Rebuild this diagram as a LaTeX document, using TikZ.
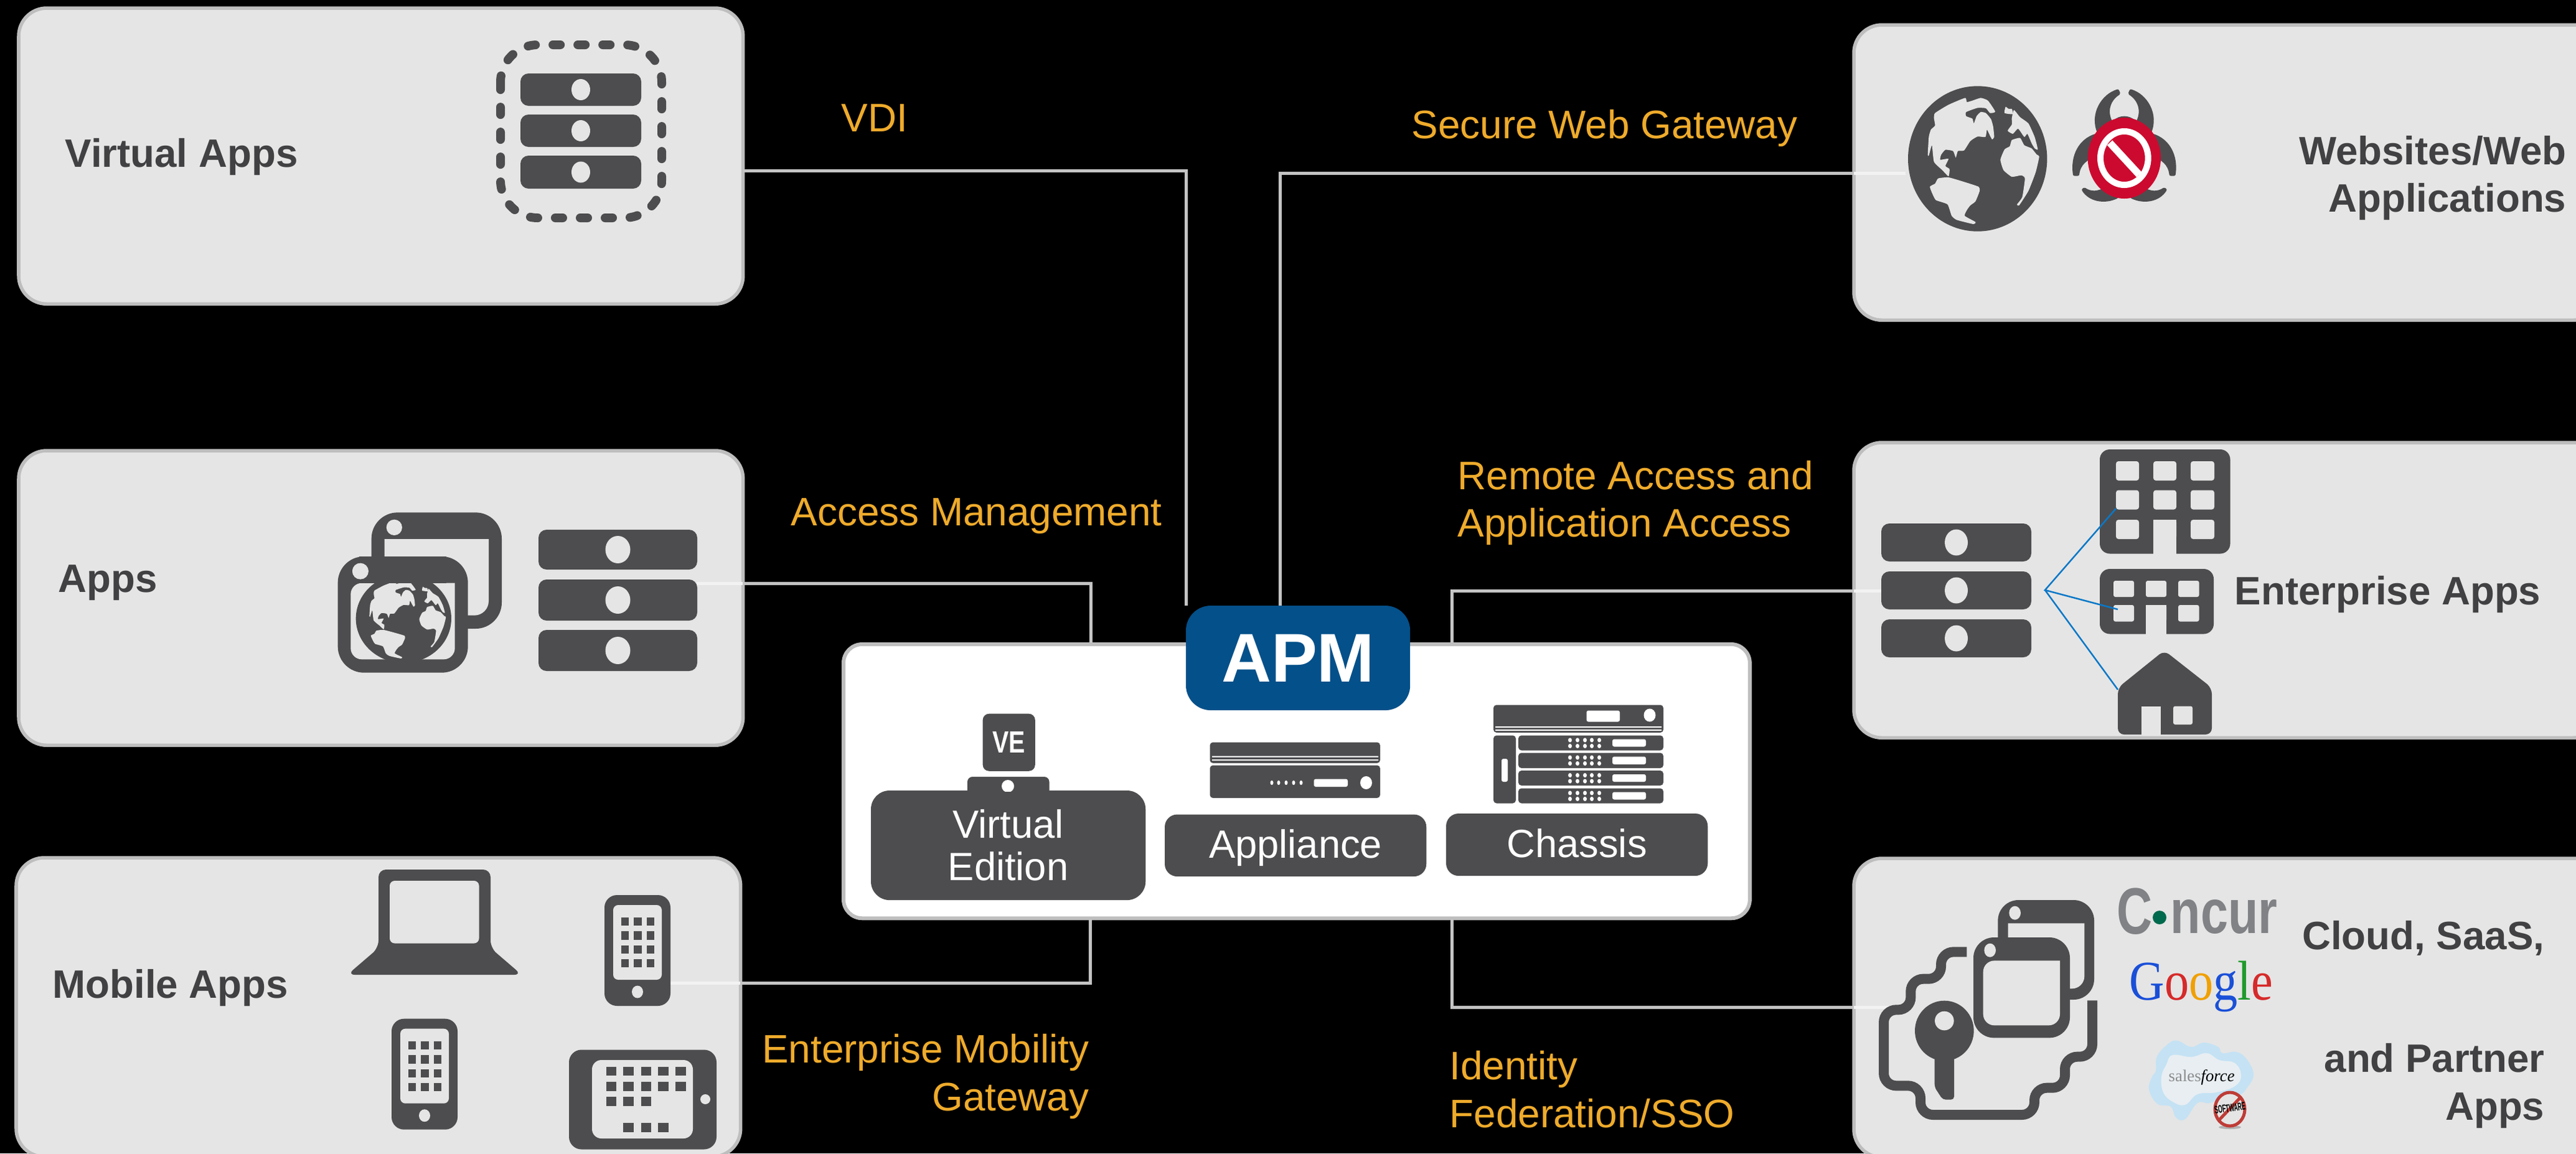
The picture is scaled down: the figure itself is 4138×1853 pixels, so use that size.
\documentclass[tikz,border=0pt]{standalone}
\usepackage{fontspec}
\usepackage{graphicx}
\setmainfont{Liberation Sans}
\newfontfamily\serifface{Liberation Serif}
\definecolor{panelfill}{HTML}{E5E5E5}
\definecolor{paneledge}{HTML}{BEBEBE}
\definecolor{icondark}{HTML}{4D4D4F}
\definecolor{labeldark}{HTML}{414042}
\definecolor{amber}{HTML}{EFAB2B}
\definecolor{apmblue}{HTML}{03508A}
\definecolor{linegrey}{HTML}{C4C4C4}
\definecolor{linepale}{HTML}{F2F2F2}
\definecolor{alarmred}{HTML}{CC0A2F}
\definecolor{logogrey}{HTML}{808285}
\tikzset{
  panel/.style={draw=paneledge,fill=panelfill,line width=.055cm,rounded corners=.45cm,inner sep=0pt,outer sep=0pt},
  hubbox/.style={draw=paneledge,fill=white,line width=.06cm,rounded corners=.3cm,inner sep=0pt,outer sep=0pt},
  darkbox/.style={fill=icondark,rounded corners=.2cm,inner sep=0pt,outer sep=0pt,text=white,align=center,font=\fontsize{18}{19.5}\selectfont},
  conn/.style={draw=linegrey,line width=.05cm},
  connin/.style={draw=linepale,line width=.05cm},
  panellabel/.style={text=labeldark,font=\fontsize{18.1}{22}\selectfont\bfseries,inner sep=0pt},
  amberlabel/.style={text=amber,font=\fontsize{18.15}{22}\selectfont,inner sep=0pt},
  icon/.style={fill=icondark,draw=none},
  gap/.style={fill=panelfill,draw=none},
}
\newcommand{\plate}[5]{\fill[icon,rounded corners=#5 cm] (#1,#2) rectangle (#3,#4);}
\newcommand{\hole}[5]{\fill[gap,rounded corners=#5 cm] (#1,#2) rectangle (#3,#4);}
\newcommand{\unit}[6]{\fill[icon,rounded corners=.13cm] (#1,#3) rectangle (#2,#4);
  \fill[panelfill] ({(#1+#2)/2},{(#3+#4)/2}) ellipse [x radius=#5,y radius=#6];}
\newcommand{\phone}[2]{\begin{scope}[shift={(#1,#2)}]
  \plate{971}{1438}{1077}{1616}{.2}
  \hole{985}{1454}{1063}{1574}{.08}
  \foreach \yy/\yb in {1474/1487,1496/1510,1519/1532,1541/1554}
    \foreach \xx/\xb in {997.5/1010,1018/1031,1039/1051}
      {\fill[icon] (\xx,\yy) rectangle (\xb,\yb);}
  \fill[panelfill] (1024,1593.5) ellipse [x radius=9,y radius=10];
\end{scope}}
\newcommand{\globe}[4]{\begin{scope}[shift={(#1,#2)},xscale=#3/335,yscale=#4/350]
  \fill[icon] (0,0) ellipse [x radius=335,y radius=350];
  \begin{scope}[shift={(-380,-405)},fill=panelfill]
  \fill plot[smooth cycle,tension=.3] coordinates {(175,185)(240,145)(320,112)(328,132)(355,125)(395,112)(430,125)(465,178)(440,185)(420,162)(380,160)(325,180)(325,200)(355,212)(362,235)(375,200)(395,180)(420,185)(445,215)(455,250)(460,300)(450,312)(438,290)(425,265)(418,300)(380,298)(345,320)(315,365)(285,368)(275,400)(262,368)(225,362)(205,385)(200,410)(240,405)(225,440)(245,455)(240,490)(210,460)(170,420)(160,340)(145,390)(140,385)(145,300)(155,265)(175,245)(170,210)};
  \fill plot[smooth cycle,tension=.3] coordinates {(150,540)(175,525)(190,500)(240,495)(310,515)(385,540)(390,560)(370,610)(345,630)(330,650)(318,680)(370,710)(360,720)(280,700)(255,680)(235,625)(180,605)(165,580)};
  \fill plot[smooth cycle,tension=.3] coordinates {(490,410)(510,360)(535,345)(545,315)(585,305)(605,340)(640,355)(665,385)(677,395)(660,470)(625,560)(580,630)(570,625)(595,590)(608,500)(590,485)(545,492)(505,460)};
  \fill plot[smooth cycle,tension=.3] coordinates {(515,155)(530,165)(545,165)(550,190)(510,185)};
  \fill plot[smooth cycle,tension=.3] coordinates {(555,170)(585,205)(625,235)(655,300)(670,360)(655,355)(640,330)(620,285)(605,300)(575,260)(550,285)(525,270)(545,240)(545,210)};
  \end{scope}
\end{scope}}
\begin{document}
\begin{tikzpicture}[x=.01cm,y=-.01cm]
\useasboundingbox (0,0) rectangle (4138,1853);
\fill[black] (0,0) rectangle (4138,1853);
% panels
\node[panel,minimum width=11.63cm,minimum height=4.75cm,anchor=north west] (virtual) at (30,13) {};
\node[panel,minimum width=11.63cm,minimum height=4.73cm,anchor=north west] (apps) at (30,724) {};
\node[panel,minimum width=11.63cm,minimum height=4.8cm,anchor=north west] (mobile) at (26,1378) {};
\node[panel,minimum width=12cm,minimum height=4.74cm,anchor=north west] (web) at (2978,40) {};
\node[panel,minimum width=12cm,minimum height=4.74cm,anchor=north west] (ent) at (2978,711) {};
\node[panel,minimum width=12cm,minimum height=4.8cm,anchor=north west] (cloud) at (2978,1379) {};
% hub and badge
\node[hubbox,minimum width=14.55cm,minimum height=4.4cm,anchor=north west] (hub) at (1355,1035) {};
\node[fill=apmblue,rounded corners=.4cm,minimum width=3.6cm,minimum height=1.68cm,inner sep=0pt,outer sep=0pt,anchor=north west,text=white,font=\fontsize{31.5}{34}\selectfont\bfseries] (apm) at (1905,973) {APM};
% connector ends
\coordinate (vaout) at (1193,274);
\coordinate (appsin) at (1119,937);
\coordinate (appsout) at (1193,937);
\coordinate (mobin) at (1076,1579);
\coordinate (mobout) at (1189,1579);
\coordinate (webin) at (3061,278);
\coordinate (webout) at (2978,278);
\coordinate (entin) at (3022,949);
\coordinate (entout) at (2978,949);
\coordinate (cldin) at (3036,1618);
\coordinate (cldout) at (2978,1618);
\coordinate (hubtl) at (1752,1033);
\coordinate (hubtr) at (2332,1033);
\coordinate (hubbl) at (1751,1477);
\coordinate (hubbr) at (2332,1477);
\coordinate (apmtr) at (2056,973);
\draw[conn] (vaout) -| (apm.north west);
\draw[conn] (webout) -| (apmtr);
\draw[conn] (appsout) -| (hubtl);
\draw[conn] (entout) -| (hubtr);
\draw[conn] (mobout) -| (hubbl);
\draw[conn] (cldout) -| (hubbr);
\draw[connin] (appsin) -- (appsout);
\draw[connin] (mobin) -- (mobout);
\draw[connin] (webin) -- (webout);
\draw[connin] (entin) -- (entout);
\draw[connin] (cldin) -- (cldout);
% panel labels
\node[panellabel,anchor=base west] (lva) at (104,268) {Virtual Apps};
\node[panellabel,anchor=base west] (lap) at (93,951) {Apps};
\node[panellabel,anchor=base west] (lmo) at (84,1603) {Mobile Apps};
\node[panellabel,anchor=base east] (lw1) at (4123,264.5) {Websites/Web};
\node[panellabel,anchor=base east] (lw2) at (4123,340) {Applications};
\node[panellabel,anchor=base west] (len) at (3589,971) {Enterprise Apps};
\node[panellabel,anchor=base east] (lc1) at (4088,1525.5) {Cloud, SaaS,};
\node[panellabel,anchor=base east] (lc2) at (4088,1722.5) {and Partner};
\node[panellabel,anchor=base east] (lc3) at (4088,1799) {Apps};
% connector labels
\node[amberlabel,anchor=base west] (tvdi) at (1351,211) {VDI};
\node[amberlabel,anchor=base west] (tswg) at (2267,222) {Secure Web Gateway};
\node[amberlabel,anchor=base west] (tam) at (1270,844) {Access Management};
\node[amberlabel,anchor=base west] (tra1) at (2341,786) {Remote Access and};
\node[amberlabel,anchor=base west] (tra2) at (2341,862) {Application Access};
\node[amberlabel,anchor=base east] (tem1) at (1750,1707) {Enterprise Mobility};
\node[amberlabel,anchor=base east] (tem2) at (1750,1784) {Gateway};
\node[amberlabel,anchor=base west] (tid1) at (2328,1734) {Identity};
\node[amberlabel,anchor=base west] (tid2) at (2328,1811) {Federation/SSO};
% virtual apps icon
\draw[icondark,line width=.14cm,line cap=round,dash pattern=on .12cm off .28cm,rounded corners=.6cm] (804,72) rectangle (1063,350);
\unit{836}{1030}{118}{170}{15}{17}
\unit{836}{1030}{184}{236}{15}{17}
\unit{836}{1030}{250}{303}{15}{17}
% apps icon
\unit{865}{1120}{851}{915}{20}{22}
\unit{865}{1120}{931}{997}{20}{22}
\unit{865}{1120}{1012}{1078}{20}{22}
\begin{scope}[shift={(530,810)},scale=.33333]
  \fill[icon,rounded corners=.42cm] (200,40) rectangle (828,600);
  \fill[gap] (263,168) -- (765,168) [rounded corners=.23cm] -- (765,536) -- (263,536) [sharp corners] -- cycle;
  \fill[panelfill] (310,112) circle [radius=38];
  \fill[icon,rounded corners=.42cm] (38,252) rectangle (665,812);
  \fill[gap] (100,380) -- (602,380) [rounded corners=.18cm] -- (602,748) -- (100,748) [rounded corners=.18cm] -- cycle;
  \fill[panelfill] (147,323) circle [radius=39];
  \begin{scope}
    \clip (38,252) rectangle (665,812);
    \globe{355}{551}{230}{214}
  \end{scope}
  \fill[icon] (140,252) rectangle (560,380);
  \fill[panelfill] (147,323) circle [radius=39];
\end{scope}
% mobile icons
\fill[icon,rounded corners=.12cm] (608,1523) -- (608,1397) -- (788,1397) -- (788,1523) -- (838,1566) -- (558,1566) -- cycle;
\hole{626}{1415}{769.5}{1515.5}{.08}
\phone{0}{0}
\phone{-342}{198.7}
\plate{914}{1686.5}{1151}{1846.5}{.2}
\hole{951}{1703}{1113}{1829}{.15}
\foreach \yy/\yb in {1714/1728,1738/1753}
  \foreach \xx/\xb in {974/990,1001/1018,1030/1046,1057/1074,1085/1102}
    {\fill[icon] (\xx,\yy) rectangle (\xb,\yb);}
\foreach \xx/\xb in {974/990,1001/1018,1030/1046}
  {\fill[icon] (\xx,1762) rectangle (\xb,1777);}
\foreach \xx/\xb in {1001/1018,1030/1046,1057/1074}
  {\fill[icon] (\xx,1804) rectangle (\xb,1819);}
\fill[panelfill] (1133,1766) ellipse [x radius=8,y radius=8];
% web icons
\globe{3176.7}{255}{111.7}{116.7}
\begin{scope}[shift={(3412.33,120)},scale=.33333]
  \foreach \sgn in {1,-1}{
    \begin{scope}[xscale=\sgn]
    \fill[icon,draw=icondark,line width=.05cm,line join=round] (-32,78) .. controls (-102,98) and (-162,190) .. (-122,280) -- (-57,240) .. controls (-92,190) and (-82,125) .. (-27,90) -- cycle;
    \fill[icon,draw=icondark,line width=.05cm,line join=round] (-240,480) .. controls (-253,390) and (-212,315) .. (-137,292) -- (-137,390) .. controls (-182,400) and (-219,430) .. (-224,480) -- cycle;
    \fill[icon,draw=icondark,line width=.05cm,line join=round] (-197,555) .. controls (-167,604) and (-97,618) .. (-37,590) -- (-87,548) .. controls (-127,572) and (-162,572) .. (-192,552) -- cycle;
    \end{scope}
  }
  \fill[icon] (0,262) ellipse [x radius=70,y radius=62];
  \fill[alarmred] (0,402) ellipse [x radius=176,y radius=195];
  \draw[white,line width=.1cm] (0,402) ellipse [x radius=115,y radius=129];
  \draw[white,line width=.115cm] (-70,328) -- (72,482);
\end{scope}
% enterprise icons
\unit{3022}{3263}{841}{902}{18.5}{21}
\unit{3022}{3263}{918}{979}{18.5}{21}
\unit{3022}{3263}{995}{1056}{18.5}{21}
\plate{3373}{722}{3582.5}{889.5}{.16}
\foreach \xx/\xb in {3399/3436,3459/3496,3519/3557}
  \foreach \yy/\yb in {741/772,787.5/818.5,835/866}
    {\hole{\xx}{\yy}{\xb}{\yb}{.04}}
\fill[panelfill] (3459,835) rectangle (3496,890);
\plate{3373}{914}{3556}{1018.5}{.16}
\foreach \xx/\xb in {3395/3428,3447/3480,3499/3532.5}
  \foreach \yy/\yb in {933/959,972/998.5}
    {\hole{\xx}{\yy}{\xb}{\yb}{.03}}
\fill[panelfill] (3447,972) rectangle (3480,1019);
\fill[icon,rounded corners=.1cm] (3476.5,1045) -- (3553,1105) -- (3553,1180) -- (3402,1180) -- (3402,1105) -- cycle;
\fill[panelfill] (3440,1134.5) rectangle (3471,1181);
\hole{3491}{1134.5}{3522}{1164}{.03}
\coordinate (fan) at (3285,948);
\coordinate (fan1) at (3399,817);
\coordinate (fan2) at (3402,979);
\coordinate (fan3) at (3402,1108);
\draw[color={rgb,255:red,10;green,120;blue,200},line width=.025cm] (fan1) -- (fan) -- (fan2) (fan) -- (fan3);
% cloud key icon
\begin{scope}[shift={(3000,1430)},scale=.33333]
  \draw[icondark,line width=.16cm,rounded corners=.2cm] (478,298) -- (354,298) -- (354,428) -- (208,428) -- (208,577) -- (78,577) -- (78,943) -- (255,943) -- (255,1083) -- (804,1083) -- (804,953) -- (951,953) -- (951,803) -- (1083,803) -- (1083,532);
  \fill[icon,rounded corners=.33cm] (628,48) rectangle (1092,528);
  \fill[gap] (677,160) -- (1045,160) [rounded corners=.2cm] -- (1045,475) -- (677,475) [sharp corners] -- cycle;
  \fill[panelfill] (710,110) ellipse [x radius=28,y radius=33];
  \fill[icon,rounded corners=.33cm] (510,228) rectangle (975,712);
  \fill[gap] (557,340) -- (927,340) [rounded corners=.18cm] -- (927,652) -- (557,652) [rounded corners=.18cm] -- cycle;
  \fill[panelfill] (590,290) ellipse [x radius=28,y radius=33];
  \fill[icon] (370,678) ellipse [x radius=142,y radius=145];
  \fill[icon,rounded corners=.05cm] (323,790) -- (417,790) -- (417,1010) -- (362,1010) -- (323,950) -- cycle;
  \fill[panelfill] (370,630) circle [radius=46];
\end{scope}
% logos
\node[anchor=base west,inner sep=0pt,text=logogrey,font=\fontsize{30}{30}\selectfont\bfseries] (lgc) at (3400,1500) {\scalebox{.75}[1]{C}};
\fill[color={rgb,255:red,0;green,106;blue,78}] (3469,1474) circle [radius=11];
\node[anchor=base west,inner sep=0pt,text=logogrey,font=\fontsize{28.5}{28.5}\selectfont\bfseries] (lgn) at (3486,1499) {\scalebox{.79}[1]{ncur}};
\node[anchor=base west,inner sep=0pt,font=\fontsize{25.6}{25.6}\selectfont\serifface] (lgg) at (3420,1606) {\scalebox{.87}[1]{\textcolor[HTML]{1A4FD8}{G}\textcolor[HTML]{D62A2A}{o}\textcolor[HTML]{F0A000}{o}\textcolor[HTML]{1A4FD8}{g}\textcolor[HTML]{1F9A2C}{l}\textcolor[HTML]{D62A2A}{e}}};
\fill[color={rgb,255:red,196;green,226;blue,244}] plot[smooth cycle,tension=.7] coordinates {(3483,1677)(3498,1672)(3520,1682)(3540,1675)(3563,1682)(3570,1692)(3593,1690)(3610,1703)(3620,1727)(3610,1747)(3597,1760)(3580,1760)(3550,1772)(3530,1772)(3510,1798)(3495,1795)(3487,1778)(3465,1773)(3452,1750)(3457,1730)(3463,1720)(3465,1697)};
\fill[color={rgb,255:red,232;green,238;blue,242}] plot[smooth cycle,tension=.7] coordinates {(3490,1695)(3520,1698)(3545,1692)(3565,1703)(3590,1708)(3600,1728)(3590,1745)(3560,1755)(3530,1758)(3510,1775)(3490,1770)(3475,1755)(3472,1730)(3480,1710)};
\node[anchor=base west,inner sep=0pt,font=\fontsize{7.6}{8}\selectfont\serifface] (lgs) at (3483,1737) {\textcolor{black!45}{sales}\textit{force}};
\fill[color=black!30] (3582,1811) ellipse [x radius=18,y radius=3];
\draw[color={rgb,255:red,190;green,60;blue,55},line width=.05cm,fill=panelfill] (3582,1782) ellipse [x radius=24,y radius=27];
\draw[color={rgb,255:red,190;green,60;blue,55},line width=.05cm] (3600,1762) -- (3564,1800);
\node[rotate=9,inner sep=0pt,text=black,font=\fontsize{5}{5}\selectfont\bfseries] (lgn2) at (3582,1780) {\scalebox{.5}[1]{SOFTWARE}};
% hub contents
\node[darkbox,minimum width=4.41cm,minimum height=1.76cm,anchor=north west,rounded corners=.3cm] (ve) at (1399,1270) {Virtual\\Edition};
\plate{1554}{1248}{1685.5}{1290}{.08}
\fill[white] (1619,1263) ellipse [x radius=10,y radius=10];
\fill[icon] (1599,1272) rectangle (1640,1290);
\node[fill=icondark,rounded corners=.1cm,minimum width=.84cm,minimum height=.92cm,inner sep=0pt,anchor=north west,text=white,font=\fontsize{14}{14}\selectfont\bfseries] (vetag) at (1578,1146) {\scalebox{.8}[1]{VE}};
\node[darkbox,minimum width=4.2cm,minimum height=.995cm,text height=.5cm,text depth=.1cm,anchor=north west] (appl) at (1871,1308.5) {Appliance};
\node[darkbox,minimum width=4.2cm,minimum height=1cm,text height=.5cm,text depth=.1cm,anchor=north west] (chas) at (2323,1307) {Chassis};
% appliance icon
\fill[icon,rounded corners=.05cm] (1943.5,1192.5) rectangle (2217,1226);
\fill[white] (1947,1214.5) rectangle (2214,1216.5) (1947,1220) rectangle (2214,1222);
\fill[icon,rounded corners=.05cm] (1943.5,1229.5) rectangle (2217,1282);
\foreach \xx in {2043,2054,2066,2078,2090} {\fill[white] (\xx,1257.5) ellipse [x radius=2.5,y radius=3.6];}
\fill[white,rounded corners=.03cm] (2110.5,1251.5) rectangle (2165,1264);
\fill[white] (2194.5,1257.5) ellipse [x radius=9.5,y radius=10.5];
% chassis icon
\fill[icon,rounded corners=.05cm] (2399,1132.5) rectangle (2672,1177);
\fill[white] (2402,1167) rectangle (2669,1169) (2402,1172) rectangle (2669,1174);
\fill[white,rounded corners=.03cm] (2548.5,1141.5) rectangle (2602,1159.5);
\fill[white] (2650,1149) ellipse [x radius=9.5,y radius=10.5];
\fill[icon,rounded corners=.05cm] (2399,1181.5) rectangle (2435,1290.5);
\fill[white,rounded corners=.03cm] (2412,1219) rectangle (2422,1256);
\foreach \yy/\yb in {1181.5/1205.5,1209.5/1234,1238/1262,1266.5/1290.5}{
  \fill[icon,rounded corners=.05cm] (2439,\yy) rectangle (2672,\yb);
  \fill[white,rounded corners=.03cm] (2590,\yy+6) rectangle (2644,\yb-6);
  \foreach \xx in {2522,2534,2546,2557,2569}{
    \fill[white] (\xx,\yy+7.5) ellipse [x radius=3,y radius=3.6];
    \fill[white] (\xx,\yy+17) ellipse [x radius=3,y radius=3.6];
  }
}
\end{tikzpicture}
\end{document}
